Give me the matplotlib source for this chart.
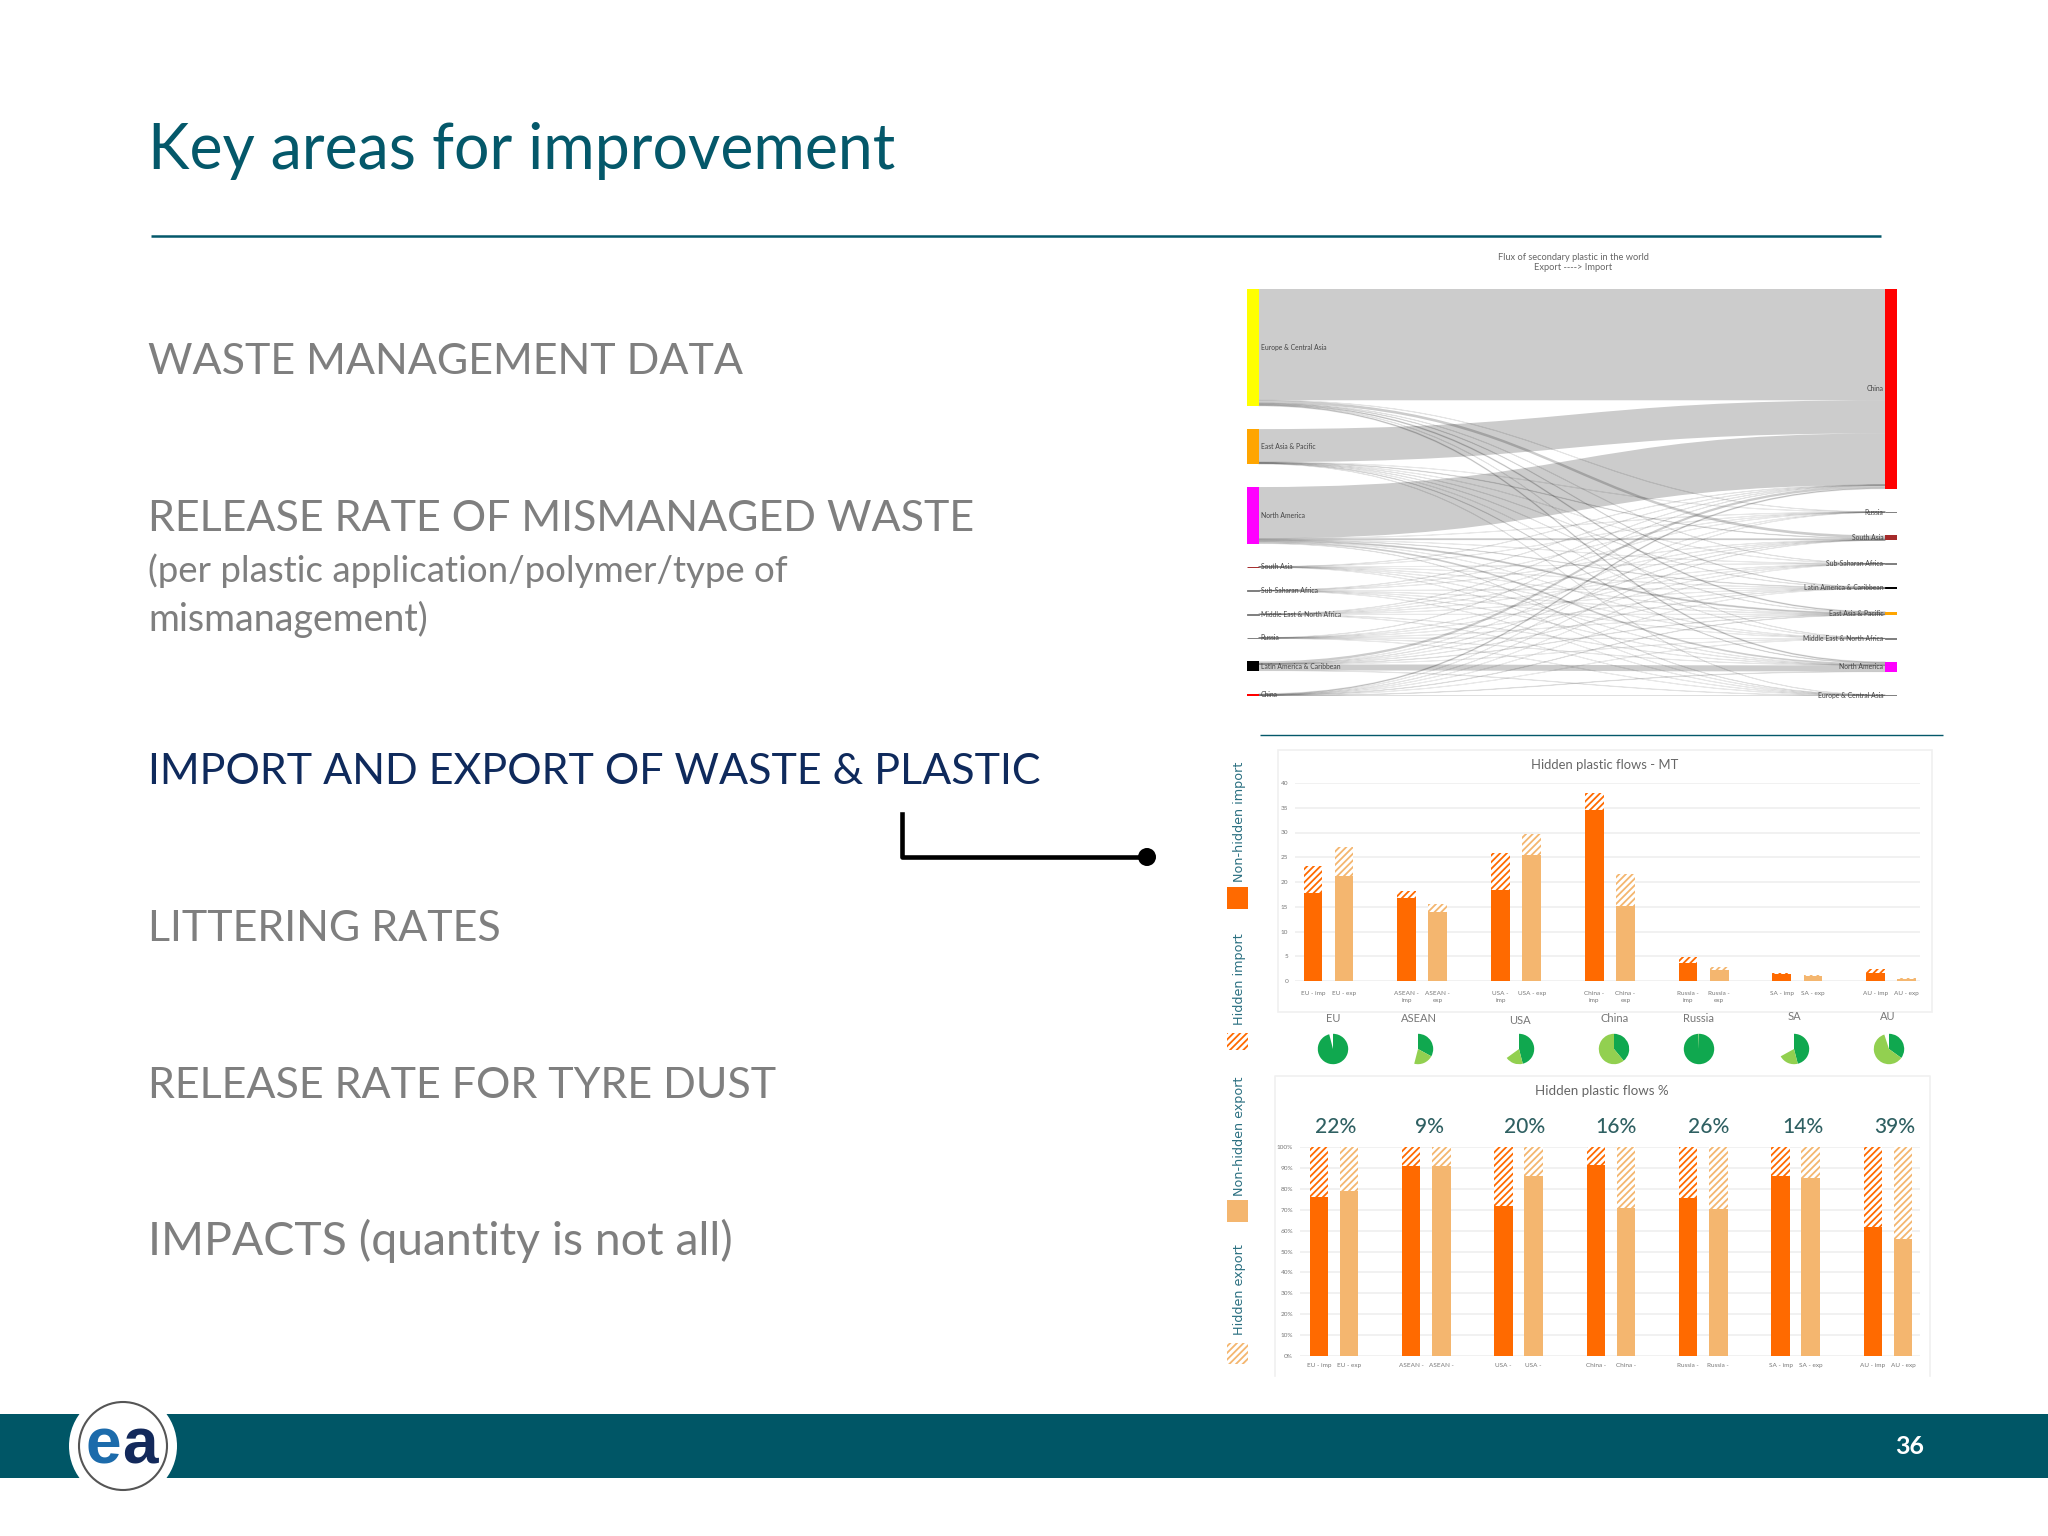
import matplotlib
matplotlib.use('Agg')
import matplotlib.pyplot as plt
from matplotlib.patches import Rectangle, Circle, PathPatch
from matplotlib.path import Path

W, H = 2048, 1536
TEAL = '#04586a'
GREY = '#7f7f7f'
ORANGE = '#ff6a00'
TAN = '#f4b66f'

# slide text
title = 'Key areas for improvement'
items = ['WASTE MANAGEMENT DATA', 'RELEASE RATE OF MISMANAGED WASTE',
         'IMPORT AND EXPORT OF WASTE & PLASTIC', 'LITTERING RATES',
         'RELEASE RATE FOR TYRE DUST', 'IMPACTS (quantity is not all)']
item_y = [374, 531, 784, 941, 1098, 1255]
item_size = [31, 31, 31, 31, 31, 33.4]
sub_lines = ['(per plastic application/polymer/type of', 'mismanagement)']

# sankey, flows from the left nodes (rows) to the right nodes (columns)
left_nodes = ['Europe & Central Asia', 'East Asia & Pacific', 'North America', 'South Asia',
              'Sub-Saharan Africa', 'Middle East & North Africa', 'Russia',
              'Latin America & Caribbean', 'China']
right_nodes = ['China', 'Russia', 'South Asia', 'Sub-Saharan Africa', 'Latin America & Caribbean',
               'East Asia & Pacific', 'Middle East & North Africa', 'North America',
               'Europe & Central Asia']
left_colors = ['#ffff00', '#ffa500', '#ff00ff', '#a52a2a', '#808080', '#808080', '#808080', '#000000', '#ff0000']
right_colors = ['#ff0000', '#808080', '#a52a2a', '#808080', '#000000', '#ffa500', '#808080', '#ff00ff', '#808080']
flows = [
    [333, 0.4, 8.0, 0.6, 1.5, 3.0, 0.5, 3.0, 0.0],
    [99, 0.1, 1.5, 0.2, 0.5, 0.6, 0.2, 1.5, 0.5],
    [154, 0.2, 3.5, 0.2, 1.2, 4.0, 0.2, 5.0, 0.7],
    [0.4, 0.1, 0.0, 0.1, 0.1, 0.2, 0.1, 0.3, 0.2],
    [0.4, 0.1, 0.2, 0.0, 0.1, 0.2, 0.1, 0.3, 0.2],
    [0.4, 0.1, 0.2, 0.1, 0.1, 0.2, 0.0, 0.3, 0.2],
    [0.5, 0.0, 0.2, 0.1, 0.1, 0.2, 0.1, 0.3, 0.2],
    [7.0, 0.1, 0.5, 0.1, 0.4, 0.8, 0.1, 18.0, 0.5],
    [3.0, 0.2, 0.4, 0.1, 0.1, 1.0, 0.1, 1.0, 0.8],
]

# bar charts
groups = ['EU', 'ASEAN', 'USA', 'China', 'Russia', 'SA', 'AU']
mt_labels = ['EU - imp', 'EU - exp', 'ASEAN -\nimp', 'ASEAN -\nexp', 'USA -\nimp', 'USA - exp',
             'China -\nimp', 'China -\nexp', 'Russia -\nimp', 'Russia -\nexp', 'SA - imp', 'SA - exp',
             'AU - imp', 'AU - exp']
pct_labels = ['EU - imp', 'EU - exp', 'ASEAN -', 'ASEAN -', 'USA -', 'USA -', 'China -', 'China -',
              'Russia -', 'Russia -', 'SA - imp', 'SA - exp', 'AU - imp', 'AU - exp']
mt_imp = [17.7, 16.7, 18.4, 34.6, 3.7, 1.5, 1.6]
mt_imp_total = [23.2, 18.2, 25.8, 38.0, 4.9, 1.7, 2.5]
mt_exp = [21.2, 14.0, 25.4, 15.2, 2.2, 1.0, 0.5]
mt_exp_total = [27.0, 15.5, 29.7, 21.7, 2.8, 1.2, 0.7]
pct_imp = [76.3, 90.7, 72.0, 91.3, 75.5, 86.3, 61.5]
pct_exp = [79.0, 90.7, 86.3, 70.7, 70.3, 85.0, 56.0]
hidden_share = ['22%', '9%', '20%', '16%', '26%', '14%', '39%']

# pies: share of circle in dark green, light green, blank
pie_dark = [96, 33, 46, 39, 99.5, 46, 35]
pie_light = [0, 21, 19, 61, 0.5, 21, 60]
pie_blank = [4, 46, 35, 0, 0, 33, 5]
pie_x = [1333, 1418, 1519, 1614, 1699, 1794, 1889]
group_label_x = [1333, 1419, 1520, 1615, 1699, 1794, 1888]
group_label_y = [1018, 1019, 1020, 1019, 1018, 1017, 1017]
share_x = [1336, 1429, 1525, 1616, 1709, 1803, 1895]

plt.rcParams['font.family'] = ['Lato', 'DejaVu Sans']
plt.rcParams['hatch.linewidth'] = 1.3

fig = plt.figure(figsize=(W / 100, H / 100), dpi=100, facecolor='white')


def px_axes(x0, y0, x1, y1, **kw):
    return fig.add_axes([x0 / W, 1 - y1 / H, (x1 - x0) / W, (y1 - y0) / H], **kw)


# sankey
ax = px_axes(1247, 289, 1897, 696)
ax.axis('off')
total_h = 1218
node_w = 0.018
ax.set_xlim(0, 1)
ax.set_ylim(total_h, 0)
n = len(flows)
left_tot = [sum(r) for r in flows]
right_tot = [sum(r[j] for r in flows) for j in range(n)]
left_pad = (total_h - sum(left_tot)) / (n - 1)
right_pad = (total_h - sum(right_tot)) / (n - 1)
left_y, right_y = [], []
y = 0
for v in left_tot:
    left_y.append(y)
    y += v + left_pad
y = 0
for v in right_tot:
    right_y.append(y)
    y += v + right_pad

left_cur = list(left_y)
right_cur = list(right_y)
for i in range(n):
    for j in range(n):
        v = flows[i][j]
        if v <= 0:
            continue
        y0, y1 = left_cur[i], right_cur[j]
        x0, x1 = node_w, 1 - node_w
        xm = (x0 + x1) / 2
        verts = [(x0, y0), (xm, y0), (xm, y1), (x1, y1), (x1, y1 + v),
                 (xm, y1 + v), (xm, y0 + v), (x0, y0 + v), (x0, y0)]
        codes = [Path.MOVETO, Path.CURVE4, Path.CURVE4, Path.CURVE4, Path.LINETO,
                 Path.CURVE4, Path.CURVE4, Path.CURVE4, Path.CLOSEPOLY]
        thin = v < 5
        ax.add_patch(PathPatch(Path(verts, codes), facecolor=(0, 0, 0, 0.2),
                               edgecolor=(0, 0, 0, 0.08) if thin else 'none', lw=0.7 if thin else 0))
        left_cur[i] += v
        right_cur[j] += v

for i in range(n):
    thin = left_tot[i] < 5
    ax.add_patch(Rectangle((0, left_y[i]), node_w, left_tot[i], fc=left_colors[i], ec=left_colors[i], lw=0.7 if thin else 0))
    ax.text(node_w + 0.003, left_y[i] + left_tot[i] / 2, left_nodes[i], fontsize=4.9, color='#444444', va='center', ha='left')
    thin = right_tot[i] < 5
    ax.add_patch(Rectangle((1 - node_w, right_y[i]), node_w, right_tot[i], fc=right_colors[i], ec=right_colors[i], lw=0.7 if thin else 0))
    ax.text(1 - node_w - 0.003, right_y[i] + right_tot[i] / 2, right_nodes[i], fontsize=4.9, color='#444444', va='center', ha='right')

# chart frames
over = fig.add_axes([0, 0, 1, 1], zorder=5)
over.set_xlim(0, W)
over.set_ylim(H, 0)
over.axis('off')
over.patch.set_alpha(0)
over.add_patch(Rectangle((1278, 750), 654, 262, fc='none', ec='#f0f0f0', lw=1.2))
over.plot([1275, 1275, 1930, 1930], [1376, 1076, 1076, 1376], color='#f0f0f0', lw=1.2)

# MT chart
ax = px_axes(1295, 783, 1920, 981)
x = range(len(groups))
off = 0.166
bw = 0.2
ax.bar([i - off for i in x], mt_imp, bw, color=ORANGE, zorder=3)
ax.bar([i - off for i in x], [t - v for t, v in zip(mt_imp_total, mt_imp)], bw, bottom=mt_imp,
       fc='white', ec=ORANGE, hatch='/////', lw=0, zorder=3)
ax.bar([i + off for i in x], mt_exp, bw, color=TAN, zorder=3)
ax.bar([i + off for i in x], [t - v for t, v in zip(mt_exp_total, mt_exp)], bw, bottom=mt_exp,
       fc='white', ec=TAN, hatch='/////', lw=0, zorder=3)
ax.set_xlim(-0.357, 6.307)
ax.set_ylim(0, 40)
ax.set_yticks(range(0, 41, 5))
ax.set_xticks([i + s * off for i in x for s in (-1, 1)])
ax.set_xticklabels(mt_labels, fontsize=4.6, color='#777777', linespacing=1.5)
ax.tick_params(length=0, labelsize=4.6, labelcolor='#777777', pad=5)
ax.tick_params(axis='x', pad=7)
ax.grid(axis='y', color='#efefef', lw=1.2, zorder=0)
ax.set_axisbelow(True)
for s in ax.spines.values():
    s.set_visible(False)
ax.patch.set_alpha(0)

# percent chart
ax = px_axes(1300, 1147, 1920, 1356)
off = 0.163
ax.bar([i - off for i in x], pct_imp, bw, color=ORANGE, zorder=3)
ax.bar([i - off for i in x], [100 - v for v in pct_imp], bw, bottom=pct_imp,
       fc='white', ec=ORANGE, hatch='/////', lw=0, zorder=3)
ax.bar([i + off for i in x], pct_exp, bw, color=TAN, zorder=3)
ax.bar([i + off for i in x], [100 - v for v in pct_exp], bw, bottom=pct_exp,
       fc='white', ec=TAN, hatch='/////', lw=0, zorder=3)
ax.set_xlim(-0.367, 6.347)
ax.set_ylim(0, 100)
ax.set_yticks(range(0, 101, 10))
ax.set_yticklabels(['%d%%' % v for v in range(0, 101, 10)])
ax.set_xticks([i + s * off for i in x for s in (-1, 1)])
ax.set_xticklabels(pct_labels, fontsize=4.6, color='#777777')
ax.tick_params(length=0, labelsize=4.6, labelcolor='#777777', pad=5)
ax.grid(axis='y', color='#efefef', lw=1.2, zorder=0)
ax.set_axisbelow(True)
for s in ax.spines.values():
    s.set_visible(False)
ax.patch.set_alpha(0)

# pies
for i in range(len(groups)):
    pax = px_axes(pie_x[i] - 16, 1033, pie_x[i] + 16, 1065)
    wedges, _ = pax.pie([pie_dark[i], pie_light[i], pie_blank[i]], colors=['#10a84f', '#92d050', 'white'],
                        startangle=90, counterclock=False, radius=0.95)
    pax.set_xlim(-1, 1)
    pax.set_ylim(-1, 1)
    wedges[2].set_alpha(0)
    over.text(group_label_x[i], group_label_y[i], groups[i], fontsize=8, color='#777777', ha='center', va='center')
    over.text(share_x[i], 1127, hidden_share[i], fontsize=15, color='#2f6062', ha='center', va='center', weight='medium')

# chart titles
over.text(1573, 257, 'Flux of secondary plastic in the world', fontsize=6.7, color='#666666', ha='center', va='center')
over.text(1573, 268, 'Export ----> Import', fontsize=6.7, color='#666666', ha='center', va='center')
over.text(1605, 765, 'Hidden plastic flows - MT', fontsize=9.4, color='#666666', ha='center', va='center')
over.text(1602, 1091, 'Hidden plastic flows %', fontsize=9.6, color='#666666', ha='center', va='center')

# rotated legend
legend_text = [('Non-hidden import', 822), ('Hidden import', 979), ('Non-hidden export', 1136), ('Hidden export', 1290)]
for s, yy in legend_text:
    over.text(1239, yy, s, rotation=90, fontsize=9.2, color='#2a6f80', ha='center', va='center', family='DejaVu Sans')
over.add_patch(Rectangle((1227, 887), 21, 22, fc=ORANGE, lw=0))
over.add_patch(Rectangle((1227, 1033), 21, 17, fc='white', ec=ORANGE, hatch='/////', lw=0))
over.add_patch(Rectangle((1227, 1200), 21, 22, fc=TAN, lw=0))
over.add_patch(Rectangle((1227, 1343), 21, 21, fc='white', ec=TAN, hatch='/////', lw=0))

# slide text
over.text(148, 169, title, fontsize=45.1, color=TEAL, va='baseline')
over.plot([151, 1881], [236, 236], color=TEAL, lw=1.8, solid_capstyle='butt')
over.plot([1260, 1943], [735, 735], color=TEAL, lw=1, solid_capstyle='butt')
for s, yy, fs in zip(items, item_y, item_size):
    c = '#0f2a5c' if s.startswith('IMPORT') else GREY
    over.text(148, yy, s, fontsize=fs, color=c, va='baseline')
over.text(148, 582, sub_lines[0], fontsize=26.4, color=GREY, va='baseline')
over.text(148, 631, sub_lines[1], fontsize=27, color=GREY, va='baseline')

# connector
over.plot([902, 902, 1147], [814, 857, 857], color='black', lw=3.3)
over.add_patch(Circle((1147, 857), 9, fc='black', lw=0))

# footer
over.add_patch(Rectangle((0, 1414), W, 64, fc='#005666', lw=0))
over.add_patch(Circle((123, 1446), 54, fc='white', lw=0))
over.add_patch(Circle((123, 1446), 44, fc='white', ec='#555555', lw=1.5))
over.text(85, 1463, 'e', fontsize=46, color='#1c6bab', weight='bold', family='Liberation Sans', va='baseline')
over.text(122, 1463, 'a', fontsize=46, color='#13295b', weight='bold', family='Liberation Sans', va='baseline')
over.text(1910, 1447, '36', fontsize=18, color='white', weight='bold', ha='center', va='center')

fig.savefig('out.png', dpi=100)
